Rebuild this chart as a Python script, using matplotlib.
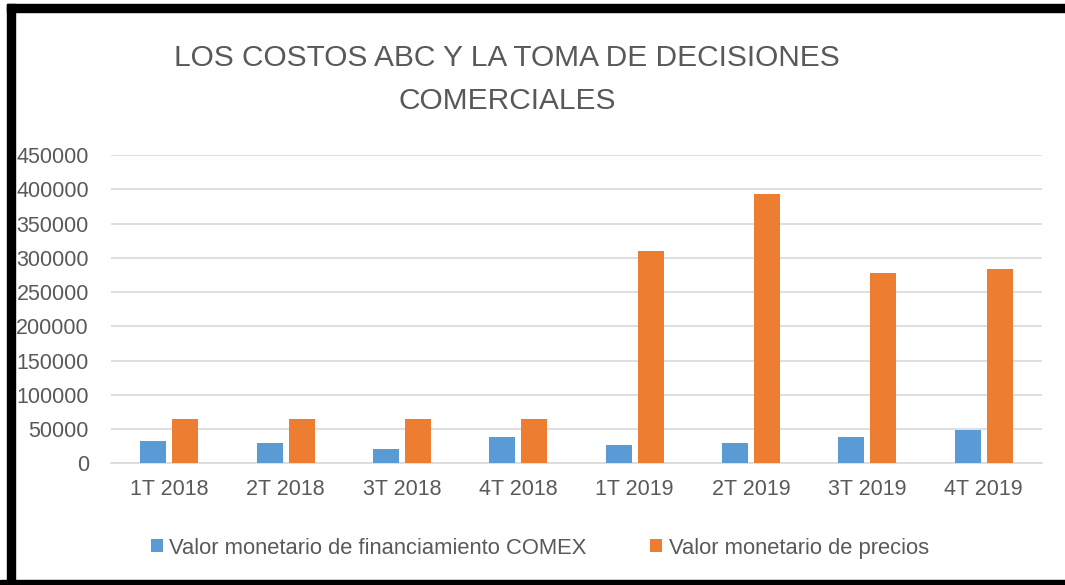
import matplotlib
matplotlib.use("Agg")
import matplotlib.pyplot as plt
from matplotlib.patches import Rectangle
import numpy as np

# data
quarters = ['1T 2018', '2T 2018', '3T 2018', '4T 2018',
            '1T 2019', '2T 2019', '3T 2019', '4T 2019']
financiamiento = [33000, 30000, 21000, 39000, 27000, 30000, 39000, 48000]
precios = [65000, 65000, 65000, 65000, 310000, 393000, 278000, 284000]

blue = '#5B9BD5'
orange = '#ED7D31'
grey_txt = '#595959'

plt.rcParams['font.family'] = ['Liberation Sans', 'DejaVu Sans']

fig = plt.figure(figsize=(10.65, 5.85), dpi=100)
ax = fig.add_axes([0.1042, 0.208, 0.8742, 0.527])

x = np.arange(len(quarters))
w = 0.223
off = 0.1375
ax.bar(x - off, financiamiento, w, color=blue,
       label='Valor monetario de financiamiento COMEX', zorder=3)
ax.bar(x + off, precios, w, color=orange,
       label='Valor monetario de precios', zorder=3)

ax.set_xlim(-0.5, len(quarters) - 0.5)
ax.set_ylim(0, 450000)
ax.set_yticks(np.arange(0, 450001, 50000))
ax.set_xticks(x)
ax.set_xticklabels(quarters)
ax.yaxis.grid(True, color='#D9D9D9', linewidth=1.2, zorder=0)
for s in ['top', 'right', 'left']:
    ax.spines[s].set_visible(False)
ax.spines['bottom'].set_color('#D9D9D9')
ax.spines['bottom'].set_linewidth(1.2)
ax.tick_params(axis='both', length=0, labelsize=15.5, labelcolor=grey_txt)
ax.tick_params(axis='x', pad=11)
ax.tick_params(axis='y', pad=16)

fig.text(0.476, 0.864, 'LOS COSTOS ABC Y LA TOMA DE DECISIONES\nCOMERCIALES',
         ha='center', va='center', fontsize=21.5, color=grey_txt, linespacing=1.65)

fig.legend(loc='center', bbox_to_anchor=(0.507, 0.063), ncol=2, frameon=False,
           fontsize=15.8, labelcolor=grey_txt, handlelength=0.55, handleheight=0.55,
           handletextpad=0.3, columnspacing=2.9)

# black frame around the chart (left, top, bottom)
W, H = 1065, 585
for (x0, y0, ww, hh) in [(7, 4, 1058, 8), (7, 4, 8, 581), (0, 580, 1065, 5)]:
    fig.add_artist(Rectangle((x0 / W, 1 - (y0 + hh) / H), ww / W, hh / H,
                             transform=fig.transFigure, color='black', zorder=10))

fig.savefig('out.png', dpi=100)
